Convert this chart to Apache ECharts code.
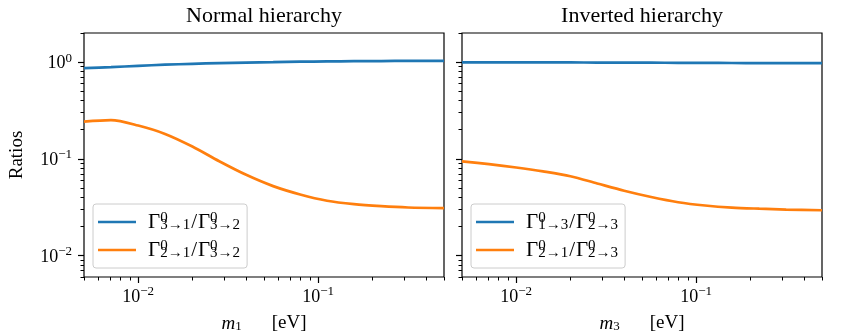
<!DOCTYPE html>
<html>
<head>
<meta charset="utf-8">
<script src="https://cdn.jsdelivr.net/npm/echarts@6/dist/echarts.min.js"></script>
<style>
html, body { margin: 0; padding: 0; background: #fff; }
#chart { width: 843px; height: 333px; }
</style>
</head>
<body>
<div id="chart"></div>
<script>
// lightest neutrino mass [eV], sampled evenly in log
const massNH = [0.005, 0.00706, 0.01, 0.0141, 0.02, 0.0282, 0.0398, 0.0562, 0.0794, 0.112, 0.158, 0.224, 0.316, 0.5];
const ratio31NH = [0.867, 0.887, 0.915, 0.94, 0.96, 0.977, 0.99, 1.0, 1.01, 1.017, 1.022, 1.026, 1.029, 1.03];
const ratio21NH = [0.242, 0.251, 0.221, 0.181, 0.134, 0.0944, 0.0683, 0.0522, 0.0428, 0.0369, 0.034, 0.0324, 0.0314, 0.0309];

const massIH = [0.005, 0.00706, 0.01, 0.0141, 0.02, 0.0282, 0.0398, 0.0562, 0.0794, 0.112, 0.158, 0.224, 0.316, 0.5];
const ratio13IH = [0.995, 0.995, 0.994, 0.993, 0.992, 0.99, 0.988, 0.986, 0.984, 0.981, 0.979, 0.977, 0.976, 0.975];
const ratio21IH = [0.094, 0.088, 0.0813, 0.0741, 0.0661, 0.0556, 0.0468, 0.0403, 0.0356, 0.0329, 0.0313, 0.0305, 0.0299, 0.0294];

// tick positions
const majorX = [0.01, 0.1];
const minorX = [0.005, 0.006, 0.007, 0.008, 0.009, 0.02, 0.03, 0.04, 0.05, 0.06, 0.07, 0.08, 0.09, 0.2, 0.3, 0.4, 0.5];
const majorY = [0.01, 0.1, 1];
const minorY = [0.006, 0.007, 0.008, 0.009, 0.02, 0.03, 0.04, 0.05, 0.06, 0.07, 0.08, 0.09,
                0.2, 0.3, 0.4, 0.5, 0.6, 0.7, 0.8, 0.9, 2];

const FONT = 'Liberation Serif';
const BLUE = '#1f77b4';
const ORANGE = '#ff7f0e';

function pairs(xs, ys) {
    return xs.map((x, i) => [x, ys[i]]);
}

function powLabel(v) {
    let e = Math.round(Math.log10(v));
    return '{b|10}{e|' + (e < 0 ? '\u2212' + (-e) : e) + '}';
}

const powRich = {
    b: { fontFamily: FONT, fontSize: 18, lineHeight: 21, color: '#000', verticalAlign: 'bottom' },
    e: { fontFamily: FONT, fontSize: 13, lineHeight: 13, color: '#000', verticalAlign: 'top' }
};

function majorAxis(grid, isX, showLabel) {
    return {
        type: 'log',
        gridIndex: grid,
        position: isX ? 'bottom' : 'left',
        min: isX ? 0.005 : 0.006,
        max: isX ? 0.5 : 2,
        axisLine: { show: false },
        splitLine: { show: false },
        axisTick: {
            show: true, length: 6,
            customValues: isX ? majorX : majorY,
            lineStyle: { color: '#000', width: 1.2 }
        },
        axisLabel: {
            show: showLabel,
            customValues: isX ? majorX : majorY,
            margin: isX ? 8 : 12,
            formatter: powLabel,
            rich: powRich
        }
    };
}

function minorAxis(grid, isX) {
    return {
        type: 'log',
        gridIndex: grid,
        position: isX ? 'bottom' : 'left',
        offset: 0,
        min: isX ? 0.005 : 0.006,
        max: isX ? 0.5 : 2,
        axisLine: { show: false },
        splitLine: { show: false },
        axisLabel: { show: false },
        axisTick: {
            show: true, length: 3.5,
            customValues: isX ? minorX : minorY,
            lineStyle: { color: '#000', width: 1 }
        }
    };
}

const xNameRich = {
    i: { fontFamily: FONT, fontSize: 19, fontStyle: 'italic', lineHeight: 22, verticalAlign: 'bottom', color: '#000' },
    s: { fontFamily: FONT, fontSize: 13, lineHeight: 13, verticalAlign: 'bottom', color: '#000' },
    gap: { width: 30 },
    r: { fontFamily: FONT, fontSize: 19, lineHeight: 22, verticalAlign: 'bottom', color: '#000' }
};

let xAxes = [majorAxis(0, true, true), minorAxis(0, true), majorAxis(1, true, true), minorAxis(1, true)];
xAxes[0].name = '{i|m}{s|1}{gap| }{r|[eV]}';
xAxes[2].name = '{i|m}{s|3}{gap| }{r|[eV]}';
[0, 2].forEach(k => {
    xAxes[k].nameLocation = 'middle';
    xAxes[k].nameGap = 34;
    xAxes[k].nameTextStyle = { rich: xNameRich };
});

let yAxes = [majorAxis(0, false, true), minorAxis(0, false), majorAxis(1, false, false), minorAxis(1, false)];
yAxes[0].name = 'Ratios';
yAxes[0].nameLocation = 'middle';
yAxes[0].nameGap = 57;
yAxes[0].nameRotate = 90;
yAxes[0].nameTextStyle = { fontFamily: FONT, fontSize: 19, color: '#000' };

function lineSeries(name, grid, data, color) {
    return {
        name: name,
        type: 'line',
        xAxisIndex: grid * 2,
        yAxisIndex: grid * 2,
        data: data,
        symbol: 'none',
        smooth: 0.3,
        lineStyle: { color: color, width: 2.7 },
        itemStyle: { color: color },
        emphasis: { disabled: true }
    };
}

// series names: Γ0(a)/Γ0(b)
function legendText(name) {
    return '{sp| }' + name.split('/').map(p => {
        let m = p.match(/\u03930\((.+)\)/);
        return '{g|\u0393}{sup|0}{sub|' + m[1] + '}';
    }).join('{sl|/}');
}

const legendRich = {
    sp: { width: 7 },
    g: { fontFamily: FONT, fontSize: 21, lineHeight: 22, color: '#000' },
    sl: { fontFamily: FONT, fontSize: 21, lineHeight: 22, color: '#000', padding: [0, 1, 0, 1] },
    sup: { fontFamily: FONT, fontSize: 15, lineHeight: 13, verticalAlign: 'top', width: 0, color: '#000' },
    sub: { fontFamily: FONT, fontSize: 15, lineHeight: 12, verticalAlign: 'bottom', color: '#000' }
};

function legendBox(left, names) {
    return {
        left: left, top: 204,
        orient: 'vertical',
        data: names,
        icon: 'rect',
        itemWidth: 38, itemHeight: 2.7, itemGap: 6,
        padding: [7, 7, 7, 5],
        backgroundColor: 'rgba(255,255,255,0.8)',
        borderColor: '#cccccc', borderWidth: 1, borderRadius: 3,
        formatter: legendText,
        textStyle: { rich: legendRich }
    };
}

const nh1 = '\u03930(3\u21921)/\u03930(3\u21922)';
const nh2 = '\u03930(2\u21921)/\u03930(3\u21922)';
const ih1 = '\u03930(1\u21923)/\u03930(2\u21923)';
const ih2 = '\u03930(2\u21921)/\u03930(2\u21923)';

const gridBase = {
    top: 33, width: 360, height: 244,
    outerBoundsMode: 'none', containLabel: false,
    show: true, borderColor: '#000', borderWidth: 1.2, backgroundColor: 'transparent'
};

const chart = echarts.init(document.getElementById('chart'), null, { renderer: 'canvas' });
chart.setOption({
    animation: false,
    textStyle: { fontFamily: FONT },
    title: [
        { text: 'Normal hierarchy', left: 264, top: 5, padding: 0, textAlign: 'center',
          textStyle: { fontFamily: FONT, fontSize: 22, fontWeight: 'normal', color: '#000' } },
        { text: 'Inverted hierarchy', left: 642, top: 5, padding: 0, textAlign: 'center',
          textStyle: { fontFamily: FONT, fontSize: 22, fontWeight: 'normal', color: '#000' } }
    ],
    grid: [
        Object.assign({ left: 84 }, gridBase),
        Object.assign({ left: 462 }, gridBase)
    ],
    xAxis: xAxes,
    yAxis: yAxes,
    legend: [legendBox(93, [nh1, nh2]), legendBox(471, [ih1, ih2])],
    series: [
        lineSeries(nh1, 0, pairs(massNH, ratio31NH), BLUE),
        lineSeries(nh2, 0, pairs(massNH, ratio21NH), ORANGE),
        lineSeries(ih1, 1, pairs(massIH, ratio13IH), BLUE),
        lineSeries(ih2, 1, pairs(massIH, ratio21IH), ORANGE)
    ]
});
</script>
</body>
</html>
